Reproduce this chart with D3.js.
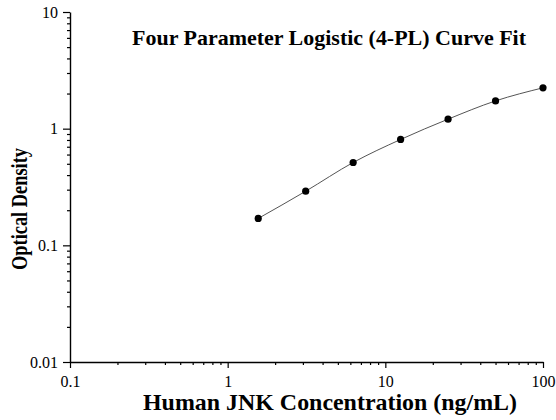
<!DOCTYPE html>
<html>
<head>
<meta charset="utf-8">
<script src="https://cdn.jsdelivr.net/npm/d3@7"></script>
<style>
  html, body { margin: 0; padding: 0; background: #fff; }
  svg { display: block; }
</style>
</head>
<body>
<svg id="chart" width="556" height="420"></svg>
<script>
const concentrations = [1.5625, 3.125, 6.25, 12.5, 25, 50, 100];
const odValues = [0.170, 0.291, 0.513, 0.808, 1.206, 1.73, 2.24];
const xTickValues = [0.1, 1, 10, 100];
const yTickValues = [0.01, 0.1, 1, 10];

const FONT = '"Times New Roman", "Liberation Serif", serif';
const margin = { top: 12, right: 13, bottom: 58, left: 70 };
const width = 556;
const height = 420;

const svg = d3.select('#chart');

const x = d3.scaleLog()
  .domain([0.1, 100])
  .range([margin.left, width - margin.right]);

const y = d3.scaleLog()
  .domain([0.01, 10])
  .range([height - margin.bottom, margin.top]);

// minor ticks: 2..9 in every decade
const minorTicks = (domain) => {
  const out = [];
  for (let e = Math.log10(domain[0]); e < Math.log10(domain[1]); e++) {
    for (let m = 2; m <= 9; m++) out.push(m * Math.pow(10, e));
  }
  return out;
};

const axisGroup = svg.append('g');

// x axis
axisGroup.append('g')
  .attr('transform', `translate(0,${y(0.01)})`)
  .call(d3.axisBottom(x).tickValues(minorTicks(x.domain())).tickSize(3).tickFormat(''))
  .call((g) => g.select('.domain').remove());

axisGroup.append('g')
  .attr('transform', `translate(0,${y(0.01)})`)
  .call(d3.axisBottom(x).tickValues(xTickValues).tickSize(6).tickSizeOuter(0).tickPadding(8)
    .tickFormat((d) => String(d)));

// y axis
axisGroup.append('g')
  .attr('transform', `translate(${x(0.1)},0)`)
  .call(d3.axisLeft(y).tickValues(minorTicks(y.domain())).tickSize(3).tickFormat(''))
  .call((g) => g.select('.domain').remove());

axisGroup.append('g')
  .attr('transform', `translate(${x(0.1)},0)`)
  .call(d3.axisLeft(y).tickValues(yTickValues).tickSize(7).tickSizeOuter(0).tickPadding(5)
    .tickFormat((d) => String(d)));

axisGroup.selectAll('.domain').attr('stroke', '#000').attr('stroke-width', 1.4);
axisGroup.selectAll('.tick line').attr('stroke', '#000').attr('stroke-width', 1.2);
axisGroup.selectAll('.tick text')
  .attr('fill', '#000')
  .style('font-family', FONT)
  .style('font-size', '16px');

// fitted curve through the standards
const line = d3.line()
  .x((d) => x(d[0]))
  .y((d) => y(d[1]))
  .curve(d3.curveMonotoneX);

const pts = concentrations.map((c, i) => [c, odValues[i]]);

svg.append('path')
  .datum(pts)
  .attr('d', line)
  .attr('fill', 'none')
  .attr('stroke', '#555')
  .attr('stroke-width', 1);

svg.append('g')
  .selectAll('circle')
  .data(pts)
  .join('circle')
  .attr('cx', (d) => x(d[0]))
  .attr('cy', (d) => y(d[1]))
  .attr('r', 3.6)
  .attr('fill', '#000');

// titles
svg.append('text')
  .attr('x', 329)
  .attr('y', 45)
  .attr('text-anchor', 'middle')
  .style('font-family', FONT)
  .attr('font-weight', 'bold')
  .style('font-size', '22px')
  .attr('textLength', 394)
  .attr('lengthAdjust', 'spacingAndGlyphs')
  .text('Four Parameter Logistic (4-PL) Curve Fit');

svg.append('text')
  .attr('x', 330)
  .attr('y', 410)
  .attr('text-anchor', 'middle')
  .style('font-family', FONT)
  .attr('font-weight', 'bold')
  .style('font-size', '24px')
  .attr('textLength', 374)
  .attr('lengthAdjust', 'spacingAndGlyphs')
  .text('Human JNK Concentration (ng/mL)');

svg.append('text')
  .attr('transform', 'translate(27,209) rotate(-90)')
  .attr('text-anchor', 'middle')
  .style('font-family', FONT)
  .attr('font-weight', 'bold')
  .style('font-size', '23px')
  .attr('textLength', 122)
  .attr('lengthAdjust', 'spacingAndGlyphs')
  .text('Optical Density');
</script>
</body>
</html>
